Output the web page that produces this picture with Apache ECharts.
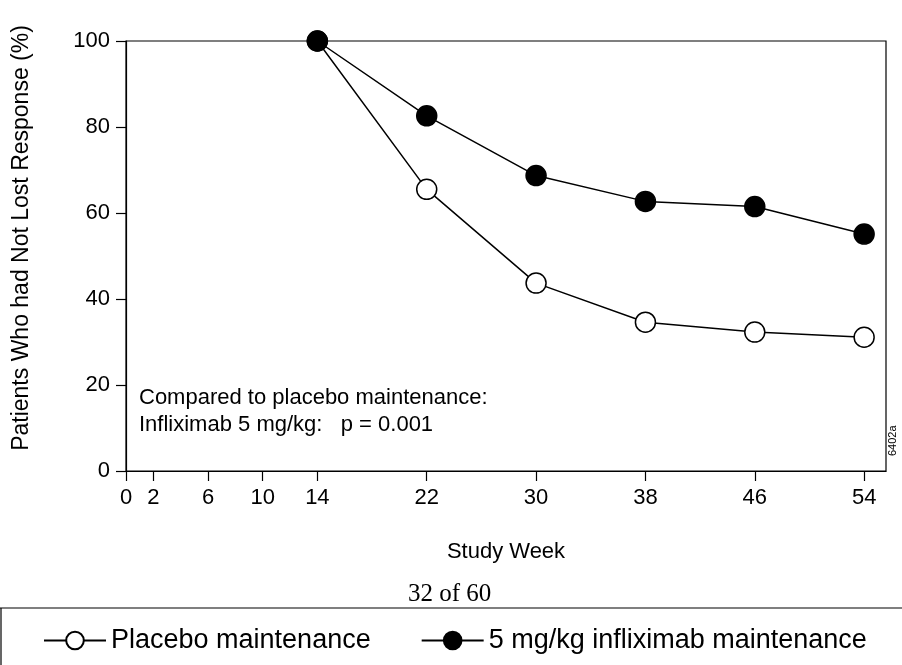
<!DOCTYPE html>
<html><head><meta charset="utf-8">
<script src="https://cdn.jsdelivr.net/npm/echarts@6/dist/echarts.min.js"></script>
<style>html,body{margin:0;padding:0;background:#fff}#main{width:902px;height:665px}</style>
</head><body><div id="main"></div>
<script>
const weeks = [14, 22, 30, 38, 46, 54];
const placebo = [100, 65.5, 43.7, 34.6, 32.3, 31.1];
const inflix = [100, 82.6, 68.7, 62.7, 61.5, 55.1];
const xTicks = [0, 2, 6, 10, 14, 22, 30, 38, 46, 54];

const chart = echarts.init(document.getElementById("main"));
const font = "Liberation Sans";
chart.setOption({
  animation: false,
  textStyle: { fontFamily: font },
  grid: { left: 126, right: 16, top: 41, bottom: 194, containLabel: false, outerBoundsMode: "none",
    show: true, borderColor: "#000", borderWidth: 1.2 },
  xAxis: {
    type: "value", min: 0, max: 55.6,
    name: "Study Week", nameLocation: "middle", nameGap: 70,
    nameTextStyle: { fontSize: 22, color: "#000" },
    axisLine: { lineStyle: { color: "#000", width: 1.2 } },
    axisTick: { show: true, inside: true, length: -10, customValues: xTicks, lineStyle: { color: "#000", width: 1.2 } },
    splitLine: { show: false },
    axisLabel: { fontSize: 22, color: "#000", margin: 16, customValues: xTicks },
  },
  yAxis: {
    type: "value", min: 0, max: 100, interval: 20,
    axisLine: { show: true, lineStyle: { color: "#000", width: 1.2 } },
    axisTick: { show: true, length: 10, lineStyle: { color: "#000", width: 1.2 } },
    splitLine: { show: false },
    axisLabel: { fontSize: 22, color: "#000", margin: 16 },
  },
  legend: {
    bottom: 6, left: 38, itemGap: 50, itemWidth: 62, itemHeight: 22,
    textStyle: { fontSize: 27, color: "#000" },
    data: ["Placebo maintenance", "5 mg/kg infliximab maintenance"],
  },
  series: [
    {
      name: "Placebo maintenance", type: "line", data: weeks.map((w, i) => [w, placebo[i]]),
      symbol: "circle", symbolSize: 20,
      lineStyle: { color: "#000", width: 1.5 },
      itemStyle: { color: "#fff", borderColor: "#000", borderWidth: 1.5 },
      z: 2,
    },
    {
      name: "5 mg/kg infliximab maintenance", type: "line", data: weeks.map((w, i) => [w, inflix[i]]),
      symbol: "circle", symbolSize: 20,
      lineStyle: { color: "#000", width: 1.5 },
      itemStyle: { color: "#000", borderColor: "#000", borderWidth: 1.5 },
      z: 3,
    },
  ],
  graphic: [
    { type: "text", x: 22, y: 238, rotation: Math.PI / 2, style: { text: "Patients Who had Not Lost Response (%)", font: "23px " + font, fill: "#000", align: "center", verticalAlign: "middle" } },
    { type: "text", left: 139, top: 384, style: { text: "Compared to placebo maintenance:\nInfliximab 5 mg/kg:   p = 0.001", font: "22px " + font, fill: "#000", lineHeight: 27 } },
    { type: "text", x: 887, y: 456, rotation: Math.PI / 2, style: { text: "6402a", font: "11px " + font, fill: "#000" } },
    { type: "text", left: 408, top: 582, style: { text: "32 of 60", font: "25px 'Liberation Serif'", fill: "#000" } },
    { type: "line", shape: { x1: 0, y1: 608, x2: 902, y2: 608 }, style: { stroke: "#000", lineWidth: 1.2 } },
    { type: "line", shape: { x1: 1, y1: 608, x2: 1, y2: 665 }, style: { stroke: "#000", lineWidth: 1.2 } },
  ],
});
</script></body></html>
